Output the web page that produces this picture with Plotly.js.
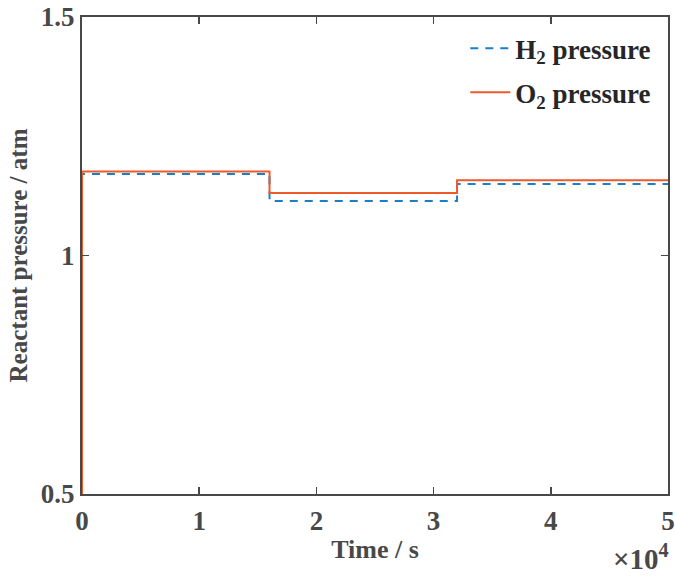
<!DOCTYPE html>
<html>
<head>
<meta charset="utf-8">
<script src="https://cdn.plot.ly/plotly-3.0.1.min.js"></script>
<style>html,body{margin:0;padding:0;background:#fff;}</style>
</head>
<body>
<div id="chart" style="width:675px;height:580px;"></div>
<script>
// Data (time in s, pressure in atm)
const timeH2 = [0, 0, 16000, 32000, 50000];
const pressureH2 = [0.5, 1.171, 1.114, 1.150, 1.150];
const timeO2 = [0, 0, 16000, 32000, 50000];
const pressureO2 = [0.5, 1.176, 1.131, 1.158, 1.158];
const xTickVals = [0, 10000, 20000, 30000, 40000, 50000];
const xTickText = ['0', '1', '2', '3', '4', '5'];
const yTickVals = [0.5, 1, 1.5];
const yTickText = ['0.5', '1', '1.5'];

const font = 'Liberation Serif, Times New Roman, serif';
const axisColor = '#484848';

const traces = [
  {
    x: timeH2, y: pressureH2, mode: 'lines', line: {shape: 'hv', color: '#1b7ec8', width: 2, dash: '8px,7px'},
    name: '<b>H<sub>2</sub> pressure</b>', legendgroup: 'a'
  },
  {
    x: timeO2, y: pressureO2, mode: 'lines', line: {shape: 'hv', color: '#ee5a2a', width: 2},
    name: '<b>O<sub>2</sub> pressure</b>', legendgroup: 'b'
  }
];

const axisCommon = {
  showgrid: false, zeroline: false, showline: true, mirror: 'ticks', linecolor: axisColor, linewidth: 2,
  ticks: 'inside', ticklen: 7, tickwidth: 1.5, tickcolor: axisColor,
  tickfont: {family: font, size: 27, color: axisColor, weight: 'bold'}
};

const layout = {
  width: 675, height: 580,
  margin: {l: 82, r: 7, t: 17, b: 86},
  paper_bgcolor: '#fff', plot_bgcolor: '#fff',
  showlegend: true,
  legend: {x: 0.98, y: 0.985, xanchor: 'right', yanchor: 'top', bgcolor: 'rgba(255,255,255,0)',
    font: {family: font, size: 27, color: '#262626'}, traceorder: 'grouped', tracegroupgap: 6, itemwidth: 40},
  xaxis: Object.assign({}, axisCommon, {
    range: [0, 50000], tickvals: xTickVals, ticktext: xTickText, ticklabelstandoff: 2,
    title: {text: '<b>Time / s</b>', font: {family: font, size: 26, color: axisColor}, standoff: 4}
  }),
  yaxis: Object.assign({}, axisCommon, {
    range: [0.5, 1.5], tickvals: yTickVals, ticktext: yTickText, ticklabelstandoff: 0,
    title: {text: '<b>Reactant pressure / atm</b>', font: {family: font, size: 25, color: axisColor}, standoff: 6}
  }),
  annotations: [{
    text: '<b>×10<sup>4</sup></b>', xref: 'paper', yref: 'paper', x: 1.005, y: -0.175,
    xanchor: 'right', yanchor: 'bottom', showarrow: false,
    font: {family: font, size: 29, color: axisColor}
  }]
};

Plotly.newPlot('chart', traces, layout, {displayModeBar: false, staticPlot: true});
</script>
</body>
</html>
